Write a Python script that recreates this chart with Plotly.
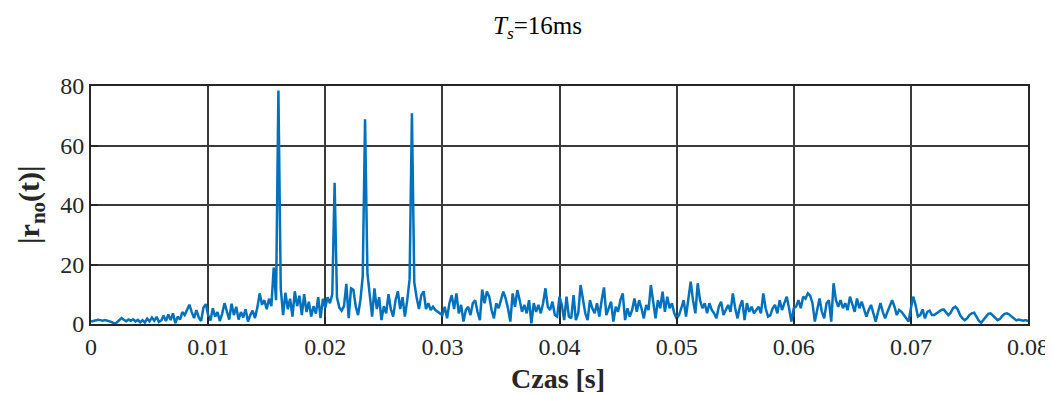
import plotly.graph_objects as go

# sampling step of the correlation signal [s]
dt = 0.0002

# |r_no(t)| values, in 0.01 s segments
seg_000_010 = [0.8, 1.0, 1.2, 1.4, 1.3, 1.1, 1.3, 1.2, 0.9, 0.6,
               0.1, 0.5, 1.4, 2.0, 1.4, 0.9, 1.5, 1.1, 1.6, 0.9,
               1.4, 0.6, 1.3, 0.5, 1.8, 0.9, 2.2, 1.1, 2.4, 0.7,
               1.2, 2.8, 1.0, 3.2, 1.3, 3.6, 0.3, 2.5, 1.5, 4.0,
               3.0, 5.0, 6.5, 4.0, 2.0, 4.7, 2.2, 1.0, 5.5, 6.7]
seg_010_020 = [3.0, 1.2, 5.3, 2.5, 4.0, 1.0, 3.5, 7.0, 4.2, 1.5,
               6.8, 3.0, 5.8, 1.5, 4.0, 2.2, 5.0, 0.8, 3.0, 4.5,
               2.0, 5.5, 10.3, 6.5, 8.0, 5.0, 8.5, 6.0, 19.0, 8.0,
               78.5, 12.0, 3.0, 10.5, 5.0, 8.5, 2.5, 11.0, 6.0, 9.5,
               3.0, 10.0, 4.0, 7.5, 2.5, 6.0, 3.5, 9.0, 2.0, 8.5]
seg_020_030 = [5.5, 9.0, 7.0, 10.0, 47.5, 9.0, 5.5, 4.5, 6.0, 13.5,
               2.0, 12.0, 11.5, 6.0, 3.0, 8.0, 16.0, 68.8, 17.0, 9.0,
               2.5, 12.0, 5.0, 9.0, 1.3, 6.0, 3.6, 10.0, 5.0, 2.5,
               8.0, 11.0, 5.0, 9.0, 2.5, 8.0, 15.0, 70.8, 14.0, 9.0,
               5.0, 9.7, 11.0, 5.0, 7.0, 4.7, 5.8, 4.7, 4.1, 3.6]
seg_030_040 = [3.0, 5.8, 1.9, 7.0, 9.7, 5.0, 10.3, 3.6, 6.4, 0.8,
               4.7, 5.8, 3.0, 7.0, 8.0, 4.1, 1.3, 11.6, 7.0, 10.9,
               9.2, 4.7, 1.9, 7.0, 5.3, 8.0, 10.9, 8.6, 5.3, 0.8,
               10.3, 5.8, 11.4, 8.0, 4.1, 6.4, 3.6, 8.0, 0.2, 7.0,
               4.1, 6.4, 3.6, 7.0, 12.0, 5.8, 4.7, 7.5, 3.0, 2.5]
seg_040_050 = [9.2, 6.4, 1.3, 9.2, 2.5, 1.9, 9.7, 1.3, 3.6, 13.1,
               8.0, 3.6, 1.3, 8.0, 5.3, 3.6, 7.0, 2.5, 8.0, 12.3,
               3.0, 5.3, 7.5, 0.8, 5.8, 4.1, 8.0, 10.3, 1.3, 5.3,
               2.5, 4.7, 8.6, 4.1, 8.0, 5.3, 1.9, 6.4, 4.7, 13.1,
               7.0, 1.9, 8.0, 5.3, 10.9, 4.1, 9.2, 5.3, 7.0, 3.6]
seg_050_060 = [1.9, 3.0, 5.3, 8.0, 2.5, 8.0, 14.2, 8.0, 3.6, 13.7,
               8.0, 5.3, 7.0, 3.6, 7.0, 4.7, 3.6, 1.9, 5.8, 7.5,
               3.0, 4.7, 6.4, 4.1, 10.3, 5.3, 1.9, 5.8, 8.0, 1.3,
               7.0, 4.1, 5.8, 3.6, 4.7, 5.8, 3.6, 10.3, 5.3, 2.5,
               3.0, 5.3, 6.4, 3.6, 8.0, 4.7, 7.0, 9.2, 5.3, 0.8]
seg_060_070 = [5.3, 5.8, 8.0, 5.3, 9.2, 8.5, 10.3, 9.5, 7.0, 0.8,
               4.7, 8.6, 4.1, 1.9, 7.0, 8.0, 0.8, 13.7, 8.0, 5.8,
               8.0, 5.3, 7.0, 4.7, 9.2, 6.4, 4.1, 8.6, 5.3, 7.5,
               5.3, 2.5, 4.7, 6.4, 3.6, 0.8, 4.1, 7.0, 4.1, 1.9,
               4.1, 6.4, 8.0, 5.8, 3.0, 4.7, 4.1, 3.0, 1.9, 0.8]
seg_070_080 = [5.3, 9.2, 6.4, 2.5, 3.0, 4.9, 1.9, 4.1, 4.5, 3.0,
               3.0, 3.6, 4.1, 4.7, 4.9, 4.1, 3.0, 3.8, 5.3, 5.8,
               4.9, 3.0, 1.9, 1.3, 1.9, 3.0, 3.6, 3.8, 2.5, 1.1,
               0.4, 1.3, 2.5, 3.4, 3.6, 3.0, 2.1, 1.3, 1.7, 2.7,
               3.4, 3.6, 3.2, 2.5, 1.7, 1.2, 1.5, 1.3, 1.1, 1.3,
               1.0]

r_no = (seg_000_010 + seg_010_020 + seg_020_030 + seg_030_040
        + seg_040_050 + seg_050_060 + seg_060_070 + seg_070_080)
t = [i * dt for i in range(len(r_no))]

x_ticks = [0, 0.01, 0.02, 0.03, 0.04, 0.05, 0.06, 0.07, 0.08]
x_tick_labels = ["0", "0.01", "0.02", "0.03", "0.04", "0.05", "0.06", "0.07", "0.08"]
y_ticks = [0, 20, 40, 60, 80]
y_tick_labels = ["0", "20", "40", "60", "80"]

FONT = "Liberation Serif, Times New Roman, serif"
# the page body has an 8px default margin, so the figure is shifted by it
OFF = 8
W, H = 1053 - OFF, 394 - OFF
L, R, T, B = 91 - OFF, 25, 86 - OFF, 70
pw = W - L - R

fig = go.Figure()
fig.add_trace(go.Scatter(
    x=t, y=r_no, mode="lines",
    line=dict(color="#0072BD", width=2.5),
    hoverinfo="skip", showlegend=False,
))

axis_common = dict(
    showline=True, linecolor="#262626", linewidth=2, mirror=True,
    ticks="inside", ticklen=7, tickwidth=1.5, tickcolor="#262626",
    showgrid=True, gridcolor="#3a3a3a", gridwidth=1.5,
    zeroline=False, automargin=False,
    tickfont=dict(family=FONT, size=24, color="#262626"),
)

fig.update_layout(
    width=W, height=H,
    margin=dict(l=L, r=R, t=T, b=B, pad=0, autoexpand=False),
    paper_bgcolor="white", plot_bgcolor="white",
    xaxis=dict(range=[0, 0.08], tickvals=x_ticks, ticktext=x_tick_labels, **axis_common),
    yaxis=dict(range=[0, 80], tickvals=y_ticks, ticktext=y_tick_labels, **axis_common),
)

# title (page coordinates converted to figure coordinates)
fig.add_annotation(
    text="<i>T<sub>s</sub></i>=16ms", xref="paper", yref="paper",
    x=(537 - OFF - L) / pw, y=1, yshift=T - (27 - OFF), xanchor="center", yanchor="middle",
    showarrow=False, font=dict(family=FONT, size=25, color="black"),
)
# x label
fig.add_annotation(
    text="<b>Czas [s]</b>", xref="paper", yref="paper",
    x=(558 - OFF - L) / pw, y=0, yshift=-(378 - OFF - (H - B)), xanchor="center", yanchor="middle",
    showarrow=False, font=dict(family=FONT, size=28, color="#262626"),
)
# y label
fig.add_annotation(
    text="<b>|r<sub>no</sub>(t)|</b>", xref="paper", yref="paper",
    x=(31 - OFF - L) / pw, y=0.5, xanchor="center", yanchor="middle", textangle=-90,
    showarrow=False, font=dict(family=FONT, size=30, color="#262626"),
)

fig.write_html("out.html")
